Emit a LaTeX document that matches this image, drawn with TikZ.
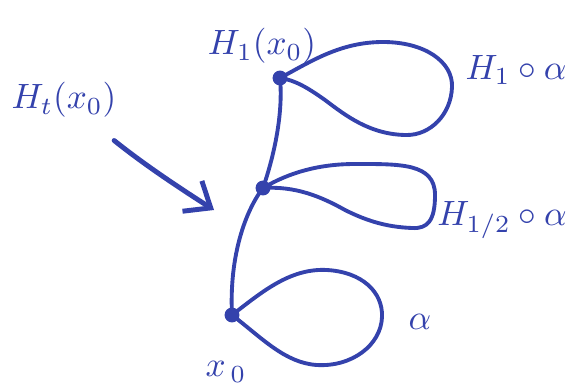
\documentclass[tikz,border=0pt]{standalone}
\usepackage{amsmath,amssymb}
\usepackage{tikz}
\usetikzlibrary{arrows.meta}

\definecolor{inkblue}{RGB}{52,66,172}

\begin{document}
\begin{tikzpicture}[
x=0.01cm, y=-0.01cm,
ink/.style={draw=inkblue, line width=1.1pt, line cap=round, line join=round},
basept/.style={circle, fill=inkblue, inner sep=1.5pt},
lbl/.style={text=inkblue, font=\normalsize, inner sep=1pt},
arrow/.style={ink, line width=1.4pt, -{Straight Barb[length=2.2mm, width=3.6mm]}}
]
\useasboundingbox (0,0) rectangle (571,388);

% base points along the path H_t(x_0)
\node[basept] (x0) at (232,315) {};
\node[basept] (mid) at (263,188) {};
\node[basept] (top) at (280,78) {};

\node[lbl] (x0lbl) at (226,372) {$x_{\,0}$};
\node[lbl] (toplbl) at (262,46) {$H_1(x_0)$};
\node[lbl] (ht) at (64,100) {$H_t(x_0)$};
\node[lbl] (alpha) at (420,322) {$\alpha$};
\node[lbl] (midalpha) at (502,220) {$H_{1/2}\circ\alpha$};
\node[lbl] (topalpha) at (516,70) {$H_1\circ\alpha$};

% the path of the base point
\draw[ink] (x0.center) .. controls (229,255) and (246,210) .. (mid.center);
\draw[ink] (mid.center) .. controls (276,150) and (283,110) .. (top.center);

% loops
\draw[ink] (x0.center) .. controls (262,292) and (290,268) .. (327,270)
  .. controls (362,272) and (383,292) .. (382,317)
  .. controls (381,345) and (352,367) .. (317,365)
  .. controls (285,363) and (262,338) .. (x0.center);
\draw[ink] (mid.center) .. controls (290,172) and (320,164) .. (355,164)
  .. controls (400,164) and (435,163) .. (435,195)
  .. controls (435,220) and (428,229) .. (412,228)
  .. controls (385,227) and (365,220) .. (345,210)
  .. controls (320,196) and (295,186) .. (mid.center);
\draw[ink] (top.center) .. controls (310,62) and (340,42) .. (383,42)
  .. controls (425,42) and (453,62) .. (452,87)
  .. controls (451,115) and (430,135) .. (407,135)
  .. controls (370,135) and (345,115) .. (325,100)
  .. controls (308,88) and (295,80) .. (top.center);

% pointer to the path
\coordinate (tip) at (214,210);
\draw[arrow, shorten <=0.3cm] (ht) to[bend right=3] (tip);
\end{tikzpicture}
\end{document}
